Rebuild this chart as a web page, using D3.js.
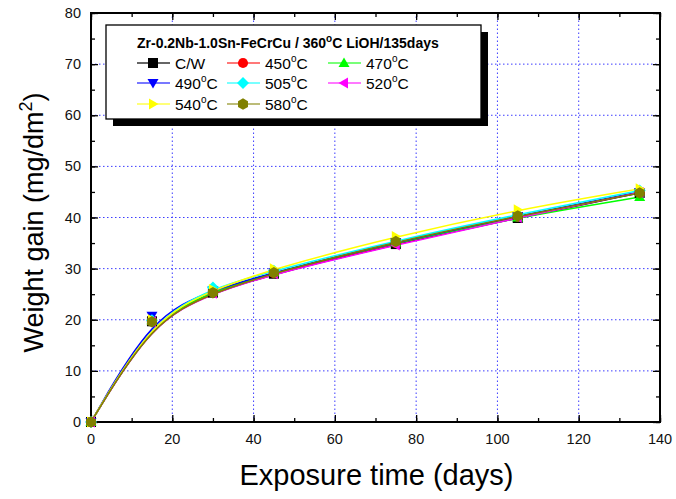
<!DOCTYPE html>
<html>
<head>
<meta charset="UTF-8">
<title>Weight gain vs exposure time</title>
<script src="https://d3js.org/d3.v7.min.js"></script>
<style>
  body { margin: 0; background: #fff; }
  svg { font-family: "Liberation Sans", Arial, sans-serif; }
  .grid line { stroke: #3c3cff; stroke-width: 1; stroke-dasharray: 1.5,2.5; }
</style>
</head>
<body>
<div id="chart"></div>
<script>
// exposure days
const days = [0, 15, 30, 45, 75, 105, 135];
const seriesNames = ["C/W", "450°C", "470°C", "490°C", "505°C", "520°C", "540°C", "580°C"];
const cw   = [0, 19.7, 25.3, 29.0, 34.8, 39.9, 44.8];
const t450 = [0, 19.8, 25.4, 29.1, 35.0, 40.1, 44.9];
const t470 = [0, 19.9, 25.6, 29.3, 35.1, 40.0, 44.0];
const t490 = [0, 20.8, 25.8, 29.3, 35.2, 40.3, 45.0];
const t505 = [0, 19.9, 26.3, 29.6, 35.5, 40.6, 45.3];
const t520 = [0, 19.6, 25.2, 29.0, 34.6, 40.0, 44.9];
const t540 = [0, 20.0, 25.9, 30.0, 36.3, 41.5, 45.6];
const t580 = [0, 19.6, 25.3, 29.2, 35.3, 40.3, 44.8];
const xTicks = [0, 20, 40, 60, 80, 100, 120, 140];
const yTicks = [0, 10, 20, 30, 40, 50, 60, 70, 80];

const allValues = [cw, t450, t470, t490, t505, t520, t540, t580];
const colors = ["#000000", "#ff0000", "#00ff00", "#0000ff", "#00ffff", "#ff00ff", "#ffff00", "#808000"];
const shapes = ["square", "circle", "triUp", "triDown", "diamond", "triLeft", "triRight", "hexagon"];

const width = 676, height = 499;
const m = { left: 91, right: 16, top: 13, bottom: 77 };

const svg = d3.select("#chart").append("svg")
  .attr("width", width).attr("height", height);

const x = d3.scaleLinear().domain([0, 140]).range([m.left, width - m.right]);
const y = d3.scaleLinear().domain([0, 80]).range([height - m.bottom, m.top]);

// grid
const grid = svg.append("g").attr("class", "grid");
grid.selectAll(".gx").data(xTicks.slice(1, -1)).enter().append("line")
  .attr("x1", d => x(d)).attr("x2", d => x(d))
  .attr("y1", y(0)).attr("y2", y(80));
grid.selectAll(".gy").data(yTicks.slice(1, -1)).enter().append("line")
  .attr("y1", d => y(d)).attr("y2", d => y(d))
  .attr("x1", x(0)).attr("x2", x(140));

// axes (ticks inside)
const minorX = d3.range(0, 141, 10);
const minorY = d3.range(0, 81, 5);
function ticks(g) { g.select(".domain").remove(); g.selectAll("line").attr("stroke", "#000").attr("stroke-width", 1.3); }

svg.append("g").attr("transform", `translate(0,${y(0)})`)
  .call(d3.axisTop(x).tickValues(minorX).tickSize(4).tickFormat(""))
  .call(ticks);
svg.append("g").attr("transform", `translate(0,${y(0)})`)
  .call(d3.axisTop(x).tickValues(xTicks).tickSize(7).tickFormat(""))
  .call(ticks);
svg.append("g").attr("transform", `translate(0,${y(80)})`)
  .call(d3.axisBottom(x).tickValues(minorX).tickSize(4).tickFormat(""))
  .call(ticks);
svg.append("g").attr("transform", `translate(0,${y(80)})`)
  .call(d3.axisBottom(x).tickValues(xTicks).tickSize(7).tickFormat(""))
  .call(ticks);
svg.append("g").attr("transform", `translate(${x(0)},0)`)
  .call(d3.axisRight(y).tickValues(minorY).tickSize(4).tickFormat(""))
  .call(ticks);
svg.append("g").attr("transform", `translate(${x(0)},0)`)
  .call(d3.axisRight(y).tickValues(yTicks).tickSize(7).tickFormat(""))
  .call(ticks);
svg.append("g").attr("transform", `translate(${x(140)},0)`)
  .call(d3.axisLeft(y).tickValues(minorY).tickSize(4).tickFormat(""))
  .call(ticks);
svg.append("g").attr("transform", `translate(${x(140)},0)`)
  .call(d3.axisLeft(y).tickValues(yTicks).tickSize(7).tickFormat(""))
  .call(ticks);

// tick labels
svg.append("g").selectAll("text").data(xTicks).enter().append("text")
  .attr("x", d => x(d)).attr("y", y(0) + 22)
  .attr("text-anchor", "middle").attr("font-size", 14.5).attr("fill", "#111")
  .text(d => d);
svg.append("g").selectAll("text").data(yTicks).enter().append("text")
  .attr("x", x(0) - 10).attr("y", d => y(d) + 5)
  .attr("text-anchor", "end").attr("font-size", 14.5).attr("fill", "#111")
  .text(d => d);

// frame
svg.append("rect")
  .attr("x", x(0)).attr("y", y(80))
  .attr("width", x(140) - x(0)).attr("height", y(0) - y(80))
  .attr("fill", "none").attr("stroke", "#000").attr("stroke-width", 2);

// axis titles
svg.append("text")
  .attr("x", (x(0) + x(140)) / 2 + 1).attr("y", 485)
  .attr("text-anchor", "middle").attr("font-size", 29)
  .text("Exposure time (days)");
const yt = svg.append("text")
  .attr("transform", `translate(43,${(y(0) + y(80)) / 2 + 5}) rotate(-90)`)
  .attr("text-anchor", "middle").attr("font-size", 27);
yt.append("tspan").text("Weight gain (mg/dm");
yt.append("tspan").attr("dy", -11).attr("font-size", 18).text("2");
yt.append("tspan").attr("dy", 11).text(")");

// markers
function symbolPath(shape, s) {
  const r = s / 2;
  switch (shape) {
    case "square": return `M${-r},${-r}H${r}V${r}H${-r}Z`;
    case "circle": return d3.symbol(d3.symbolCircle, s * s * 0.8)();
    case "triUp": return `M0,${-r * 1.1}L${r * 1.1},${r * 0.8}L${-r * 1.1},${r * 0.8}Z`;
    case "triDown": return `M0,${r * 1.1}L${r * 1.1},${-r * 0.8}L${-r * 1.1},${-r * 0.8}Z`;
    case "triLeft": return `M${-r * 1.1},0L${r * 0.8},${-r * 1.1}L${r * 0.8},${r * 1.1}Z`;
    case "triRight": return `M${r * 1.1},0L${-r * 0.8},${-r * 1.1}L${-r * 0.8},${r * 1.1}Z`;
    case "diamond": return `M0,${-r * 1.2}L${r * 1.2},0L0,${r * 1.2}L${-r * 1.2},0Z`;
    case "hexagon": {
      const pts = d3.range(6).map(i => { const a = Math.PI / 6 + i * Math.PI / 3; return [r * 1.15 * Math.cos(a), r * 1.15 * Math.sin(a)]; });
      return "M" + pts.map(p => p.join(",")).join("L") + "Z";
    }
  }
}

const line = d3.line().x(d => x(d[0])).y(d => y(d[1])).curve(d3.curveBasis);

const plot = svg.append("g");
allValues.forEach((vals, i) => {
  const pts = days.map((d, j) => [d, vals[j]]);
  plot.append("path").datum(pts)
    .attr("d", line).attr("fill", "none")
    .attr("stroke", colors[i]).attr("stroke-width", 1.5);
});
allValues.forEach((vals, i) => {
  plot.append("g").selectAll("path").data(days.map((d, j) => [d, vals[j]])).enter().append("path")
    .attr("transform", d => `translate(${x(d[0])},${y(d[1])})`)
    .attr("d", symbolPath(shapes[i], 10))
    .attr("fill", colors[i]);
});

// legend
const lg = svg.append("g");
lg.append("rect").attr("x", 113).attr("y", 32).attr("width", 375).attr("height", 94).attr("fill", "#000");
lg.append("rect").attr("x", 106).attr("y", 25).attr("width", 375).attr("height", 94)
  .attr("fill", "#fff").attr("stroke", "#000").attr("stroke-width", 1.3);
const title = lg.append("text").attr("x", 137).attr("y", 48)
  .attr("font-size", 14).attr("font-weight", "bold");
title.append("tspan").text("Zr-0.2Nb-1.0Sn-FeCrCu / 360");
title.append("tspan").attr("dy", -6).attr("font-size", 10).text("o");
title.append("tspan").attr("dy", 6).text("C LiOH/135days");

const colX = [137, 227, 328];
const rowY = [63, 83, 104];
seriesNames.forEach((name, i) => {
  const cx = colX[i % 3], cy = rowY[Math.floor(i / 3)];
  lg.append("line").attr("x1", cx).attr("x2", cx + 33).attr("y1", cy).attr("y2", cy)
    .attr("stroke", colors[i]).attr("stroke-width", 1.3).attr("opacity", colors[i] === "#000000" ? 0.8 : 0.7);
  lg.append("path").attr("transform", `translate(${cx + 16},${cy})`)
    .attr("d", symbolPath(shapes[i], 10)).attr("fill", colors[i]);
  const t = lg.append("text").attr("x", cx + 38).attr("y", cy + 5.5).attr("font-size", 15.5);
  if (name.includes("°")) {
    const parts = name.split("°");
    t.append("tspan").text(parts[0]);
    t.append("tspan").attr("dy", -7).attr("font-size", 10).text("o");
    t.append("tspan").attr("dy", 7).text(parts[1]);
  } else {
    t.text(name);
  }
});
</script>
</body>
</html>
